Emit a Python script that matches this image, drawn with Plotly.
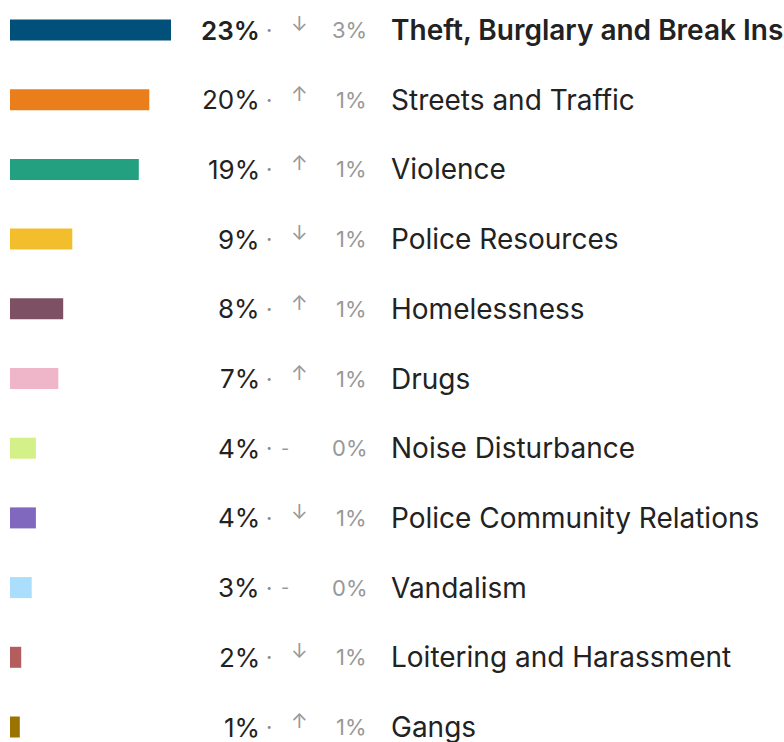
import plotly.graph_objects as go

categories = ["Theft, Burglary and Break Ins", "Streets and Traffic", "Violence",
              "Police Resources", "Homelessness", "Drugs", "Noise Disturbance",
              "Police Community Relations", "Vandalism", "Loitering and Harassment", "Gangs"]
shares = [23.0, 19.9, 18.4, 8.9, 7.6, 6.9, 3.7, 3.7, 3.1, 1.6, 1.4]
share_labels = ["23%", "20%", "19%", "9%", "8%", "7%", "4%", "4%", "3%", "2%", "1%"]
directions = ["down", "up", "up", "down", "up", "up", "flat", "down", "flat", "down", "up"]
changes = [3, 1, 1, 1, 1, 1, 0, 1, 0, 1, 1]
colors = ["#00507A", "#E97E1B", "#23A07F", "#F3BE2B", "#7D5163", "#EEB6C8",
          "#D4F089", "#7F68BD", "#ABDDFC", "#B35D5D", "#9A7300"]

W, H = 784, 742
PX_PER_UNIT = 7.0
X0 = 10
ROW0, ROWSTEP = 30, 69.7

n = len(categories)
idx = list(range(n))

fig = go.Figure(go.Bar(
    x=shares, y=idx, orientation="h", marker=dict(color=colors, line=dict(width=0)),
    width=21 / ROWSTEP, hoverinfo="skip"))

arrow_map = {"up": "↑", "down": "↓", "flat": "-"}
FONT = "Inter, Roboto, sans-serif"
ann = []
for i in idx:
    wt = 600 if i == 0 else 400
    ann.append(dict(x=262 / W, y=i, xref="paper", yref="y", xanchor="right", yanchor="middle",
                    text=share_labels[i],
                    showarrow=False, font=dict(family=FONT, size=26, color="#222222", weight=wt)))
    ann.append(dict(x=269 / W, y=i, xref="paper", yref="y", xanchor="center", yanchor="middle",
                    text="·", showarrow=False, font=dict(family=FONT, size=22, color="#888888")))
    sym = arrow_map[directions[i]]
    if sym == "-":
        ann.append(dict(x=285 / W, y=i, xref="paper", yref="y", xanchor="center", yanchor="middle",
                        text="-", showarrow=False, font=dict(family=FONT, size=18, color="#999999")))
    else:
        ann.append(dict(x=299 / W, y=i - 6 / ROWSTEP, xref="paper", yref="y",
                        xanchor="center", yanchor="middle", text=sym, showarrow=False,
                        font=dict(family=FONT, size=20, color="#999999")))
    ann.append(dict(x=369 / W, y=i, xref="paper", yref="y", xanchor="right", yanchor="middle",
                    text=f"{changes[i]}%", showarrow=False,
                    font=dict(family=FONT, size=22, color="#999999")))
    ann.append(dict(x=389 / W, y=i, xref="paper", yref="y", xanchor="left", yanchor="middle",
                    text=categories[i], showarrow=False,
                    font=dict(family=FONT, size=28, color="#222222", weight=wt)))

fig.update_layout(
    width=W, height=H, margin=dict(l=0, r=0, t=0, b=0),
    paper_bgcolor="white", plot_bgcolor="white", showlegend=False,
    xaxis=dict(range=[-X0 / PX_PER_UNIT, (W - X0) / PX_PER_UNIT], visible=False, fixedrange=True),
    yaxis=dict(range=[(H - ROW0) / ROWSTEP, -ROW0 / ROWSTEP], visible=False, fixedrange=True),
    annotations=ann,
)
fig.write_html("out.html", config={"displayModeBar": False},
               post_script="document.body.style.margin='0';document.body.style.overflow='hidden';")
